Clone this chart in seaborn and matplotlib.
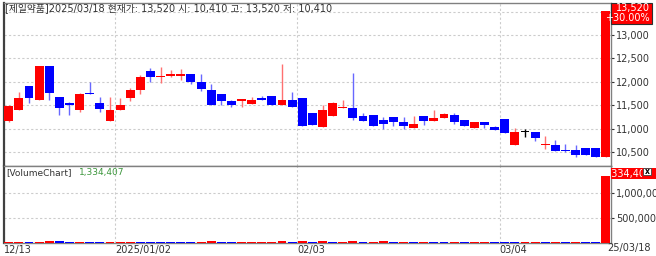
import matplotlib
matplotlib.use("Agg")
import matplotlib.pyplot as plt
from matplotlib.patches import Rectangle
from matplotlib.transforms import Bbox
import matplotlib.ticker as mticker
import numpy as np
import pandas as pd
import seaborn as sns

# ---------------- data ----------------
stock_name = "제일약품"
dates = [
    "2024-12-13", "2024-12-16", "2024-12-17", "2024-12-18", "2024-12-19", "2024-12-20",
    "2024-12-23", "2024-12-24", "2024-12-26", "2024-12-27", "2024-12-30",
    "2025-01-02", "2025-01-03", "2025-01-06", "2025-01-07", "2025-01-08", "2025-01-09",
    "2025-01-10", "2025-01-13", "2025-01-14", "2025-01-15", "2025-01-16", "2025-01-17",
    "2025-01-20", "2025-01-21", "2025-01-22", "2025-01-23", "2025-01-24", "2025-01-31",
    "2025-02-03", "2025-02-04", "2025-02-05", "2025-02-06", "2025-02-07", "2025-02-10",
    "2025-02-11", "2025-02-12", "2025-02-13", "2025-02-14", "2025-02-17", "2025-02-18",
    "2025-02-19", "2025-02-20", "2025-02-21", "2025-02-24", "2025-02-25", "2025-02-26",
    "2025-02-27", "2025-02-28", "2025-03-04", "2025-03-05", "2025-03-06", "2025-03-07",
    "2025-03-10", "2025-03-11", "2025-03-12", "2025-03-13", "2025-03-14", "2025-03-17",
    "2025-03-18",
]
opens = [11160, 11400, 11910, 11620, 12330, 11690, 11560, 11400, 11770, 11560,
         11180, 11400, 11650, 11830, 12240, 12100, 12130, 12130, 12160, 11990,
         11830, 11740, 11600, 11600, 11530, 11650, 11700, 11500, 11620, 11650,
         11350, 11050, 11280, 11440, 11440, 11280, 11300, 11190, 11250, 11140,
         11020, 11280, 11180, 11230, 11300, 11190, 11020, 11150, 11050, 11210,
         10650, 10930, 10940, 10650, 10660, 10550, 10550, 10600, 10600, 10410]
highs = [11500, 11790, 11920, 12340, 12340, 11690, 11580, 11760, 12000, 11680,
         11690, 11660, 11870, 12150, 12290, 12310, 12250, 12270, 12180, 12170,
         11950, 11740, 11610, 11640, 11670, 11710, 11700, 12380, 11780, 11650,
         11350, 11510, 11580, 11610, 12200, 11340, 11300, 11260, 11260, 11260,
         11270, 11280, 11400, 11340, 11350, 11190, 11150, 11150, 11060, 11210,
         11030, 11010, 10940, 10850, 10760, 10690, 10660, 10600, 10600, 13520]
lows = [11150, 11400, 11550, 11610, 11620, 11300, 11300, 11370, 11740, 11370,
        11180, 11400, 11600, 11740, 12000, 11970, 12100, 12040, 11950, 11810,
        11520, 11510, 11460, 11460, 11530, 11620, 11500, 11500, 11470, 11070,
        11090, 11050, 11280, 11440, 11190, 11180, 11060, 11000, 11070, 11000,
        11020, 11080, 11180, 11230, 11100, 11060, 11020, 11030, 10980, 10910,
        10650, 10820, 10740, 10570, 10540, 10500, 10400, 10450, 10400, 10410]
closes = [11490, 11660, 11650, 12340, 11770, 11450, 11510, 11740, 11740, 11420,
          11400, 11520, 11840, 12100, 12100, 12130, 12170, 12160, 11990, 11850,
          11520, 11600, 11520, 11630, 11620, 11620, 11500, 11620, 11470, 11070,
          11090, 11400, 11560, 11460, 11240, 11180, 11060, 11100, 11150, 11070,
          11100, 11180, 11230, 11310, 11150, 11060, 11150, 11080, 10980, 10910,
          10940, 10930, 10800, 10660, 10540, 10530, 10450, 10450, 10400, 13520]
volumes = [22000, 25000, 20000, 28000, 48000, 30000, 21000, 24000, 19000, 15000,
           20000, 22000, 26000, 24000, 20000, 18000, 16000, 14000, 12000, 20000,
           40000, 22000, 17000, 18000, 19000, 21000, 23000, 42000, 24000, 45000,
           28000, 30000, 22000, 25000, 48000, 26000, 28000, 30000, 20000, 22000,
           18000, 20000, 17000, 15000, 18000, 14000, 19000, 21000, 18000, 16000,
           14000, 16000, 18000, 15000, 17000, 14000, 16000, 13000, 12000, 1334407]
date_labels = {"2024-12-13": "12/13", "2025-01-02": "2025/01/02",
               "2025-02-03": "02/03", "2025-03-04": "03/04"}
last_label = "25/03/18"
price_ticks = [10500, 11000, 11500, 12000, 12500, 13000, 13500]
volume_ticks = [500000, 1000000]

# ---------------- style ----------------
sns.set_style("white")
plt.rcParams["font.family"] = ["DejaVu Sans", "Noto Sans CJK KR"]

RED, BLUE = "#ff0000", "#0000ff"
W, H = 656, 256
fig = plt.figure(figsize=(W / 100, H / 100), dpi=100)

def fx(px):
    return px / W

def fy(py):
    return 1 - py / H

ax_p = fig.add_axes([fx(3.7), fy(166), fx(611 - 3.7), (166 - 3) / H])
ax_v = fig.add_axes([fx(3.7), fy(243), fx(611 - 3.7), (243 - 166) / H])

df = pd.DataFrame({"date": dates, "open": opens, "high": highs, "low": lows,
                   "close": closes, "volume": volumes})
df["i"] = np.arange(len(df))
df["dir"] = np.where(df["close"] > df["open"], "up",
                     np.where(df["close"] < df["open"], "down", "flat"))
body_col = {"up": RED, "down": BLUE, "flat": "#000000"}
wick_col = {"up": "#ff7070", "down": "#6868ff", "flat": "#000000"}

# ---------------- price candles ----------------
ax_p.vlines(df["i"], df["low"], df["high"], colors=[wick_col[d] for d in df["dir"]],
            lw=1, zorder=2)
bottom = np.minimum(df["open"], df["close"])
height = np.maximum(np.abs(df["close"] - df["open"]), 22)
ax_p.bar(df["i"], height, bottom=bottom, width=0.88,
         color=[body_col[d] for d in df["dir"]], lw=0, zorder=3)

ax_p.set_xlim(-0.5, len(df) - 0.5)
ax_p.set_ylim(10212, 13681)
ax_p.yaxis.tick_right()
ax_p.set_yticks(price_ticks)
ax_p.yaxis.set_major_formatter(mticker.FuncFormatter(
    lambda v, p: "" if v >= 13500 else f"{int(v):,}"))
grid_pos = [df.index[df["date"] == d][0] - 0.5 for d in date_labels]
ax_p.set_xticks(grid_pos)
ax_p.tick_params(axis="x", length=0, labelbottom=False)
ax_p.tick_params(axis="y", length=2, width=0.8, pad=1.5, labelsize=7,
                 colors="#333333", direction="out")
ax_p.grid(True, ls=(0, (2, 2)), color="#cccccc", lw=0.8, zorder=0)

# ---------------- volume bars ----------------
vdir = ["up"] + ["up" if volumes[k] >= volumes[k - 1] else "down"
                 for k in range(1, len(volumes))]
df["vdir"] = vdir
sns.barplot(data=df, x="i", y="volume", hue="vdir", palette={"up": RED, "down": BLUE},
            dodge=False, width=0.88, linewidth=0, errorbar=None, legend=False,
            saturation=1, ax=ax_v, zorder=3)
ax_v.set_xlim(-0.5, len(df) - 0.5)
ax_v.set_ylim(0, 1530000)
ax_v.set_xlabel("")
ax_v.set_ylabel("")
ax_v.yaxis.tick_right()
ax_v.set_yticks(volume_ticks)
ax_v.yaxis.set_major_formatter(mticker.FuncFormatter(lambda v, p: f"{int(v):,}"))
ax_v.set_xticks(grid_pos)
ax_v.set_xticklabels(list(date_labels.values()))
for t in ax_v.get_xticklabels():
    t.set_ha("left")
ax_v.tick_params(axis="x", length=0, pad=1.5, labelsize=7, colors="#333333")
ax_v.tick_params(axis="y", length=2, width=0.8, pad=1.5, labelsize=7,
                 colors="#333333", direction="out")
ax_v.grid(True, ls=(0, (2, 2)), color="#cccccc", lw=0.8, zorder=0)
ax_v.set_axisbelow(True)
ax_p.set_axisbelow(True)

for ax in (ax_p, ax_v):
    for s in ax.spines.values():
        s.set_visible(True)
        s.set_color("#808080")
        s.set_linewidth(1)
    ax.spines["left"].set_color("#404040")
    ax.spines["left"].set_linewidth(1.6)

fig.text(fx(607), fy(248), last_label, fontsize=7, color="#333333",
         ha="left", va="center")

# ---------------- header texts ----------------
header = (f"[{stock_name}]{dates[-1].replace('-', '/')} 현재가: {closes[-1]:,} "
          f"시: {opens[-1]:,} 고: {highs[-1]:,} 저: {lows[-1]:,}")
fig.text(fx(5), fy(8.5), header, fontsize=7, color="#333333", ha="left", va="center")
fig.text(fx(6), fy(172.5), "[VolumeChart]", fontsize=6.5, color="#333333",
         ha="left", va="center")
fig.text(fx(79), fy(172.5), f"{volumes[-1]:,}", fontsize=6.5, color="#3c963c",
         ha="left", va="center")

# ---------------- right side value boxes ----------------
pct = (closes[-1] / closes[-2] - 1) * 100
fig.patches.append(Rectangle((fx(611), fy(23.5)), fx(41), 21 / H, transform=fig.transFigure,
                             facecolor=RED, edgecolor="#303030", lw=0.8, zorder=10))
fig.text(fx(650), fy(8), f"{closes[-1]:,}", fontsize=7, color="white",
         ha="right", va="center", zorder=11)
fig.text(fx(650), fy(18), f"{pct:+.2f}%", fontsize=7, color="white",
         ha="right", va="center", zorder=11)

fig.patches.append(Rectangle((fx(611), fy(178.5)), fx(45), 11 / H, transform=fig.transFigure,
                             facecolor=RED, edgecolor="none", zorder=10))
vt = fig.text(fx(652), fy(173.5), f"{volumes[-1]:,}", fontsize=7, color="white",
              ha="right", va="center", zorder=11)
fig.canvas.draw()
vt.set_clip_box(Bbox([[611, H - 178.5], [642, H - 167.5]]))
vt.set_clip_on(True)
fig.patches.append(Rectangle((fx(643), fy(175)), fx(8), 7 / H, transform=fig.transFigure,
                             facecolor="white", edgecolor="#404040", lw=0.6, zorder=12))
fig.text(fx(647), fy(171.5), "x", fontsize=5.5, color="black", ha="center",
         va="center", zorder=13, fontweight="bold")

fig.savefig("out.png", dpi=100)
